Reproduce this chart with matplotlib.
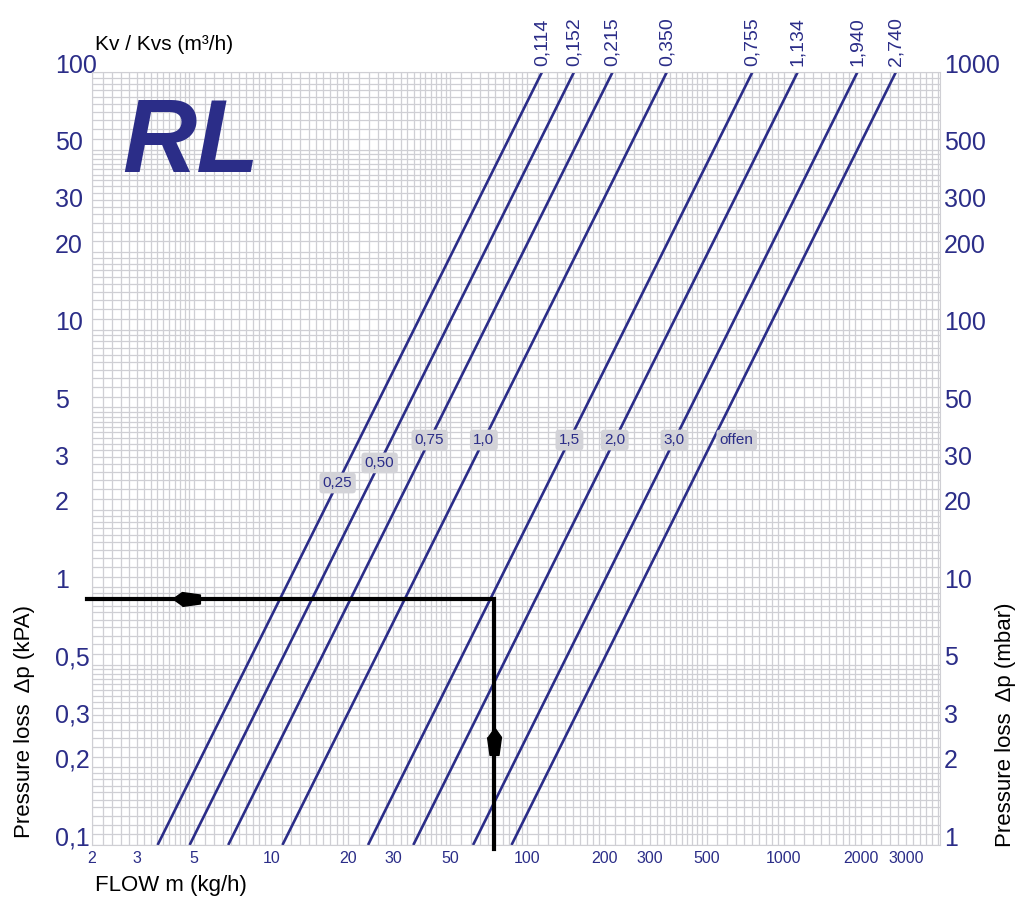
import numpy as np
import matplotlib.pyplot as plt
from matplotlib.ticker import FixedLocator, FixedFormatter, NullFormatter
from matplotlib.transforms import ScaledTranslation

# valve curves: Kv per presetting
kv_values = [0.114, 0.152, 0.215, 0.350, 0.755, 1.134, 1.940, 2.740]
kv_labels = ["0,114", "0,152", "0,215", "0,350", "0,755", "1,134", "1,940", "2,740"]
settings = ["0,25", "0,50", "0,75", "1,0", "1,5", "2,0", "3,0", "offen"]
setting_dp = [2.54, 3.04, 3.73, 3.73, 3.73, 3.73, 3.73, 3.73]  # kPa

flow_ticks = [2, 3, 5, 10, 20, 30, 50, 100, 200, 300, 500, 1000, 2000, 3000]
flow_labels = [str(v) for v in flow_ticks]
dp_ticks = [0.1, 0.2, 0.3, 0.5, 1, 2, 3, 5, 10, 20, 30, 50, 100]
dp_labels = ["0,1", "0,2", "0,3", "0,5", "1", "2", "3", "5", "10", "20", "30", "50", "100"]
mbar_ticks = [1, 2, 3, 5, 10, 20, 30, 50, 100, 200, 300, 500, 1000]
mbar_labels = [str(v) for v in mbar_ticks]

# worked example: read flow up to the curve, then across to the pressure loss
example_flow = 74   # kg/h
example_dp = 0.9    # kPa

NAVY = "#2B2D88"
GRID = "#CFCFD4"
FONT = ["Liberation Sans Narrow", "Liberation Sans", "DejaVu Sans"]

plt.rcParams["font.family"] = FONT


def log_paper(lo_exp, hi_exp):
    vals = []
    for k in range(lo_exp, hi_exp + 1):
        d = 10.0 ** k
        vals += list(np.arange(1, 2, 0.1) * d)
        vals += list(np.arange(2, 5, 0.2) * d)
        vals += list(np.arange(5, 10, 0.5) * d)
    return vals


fig = plt.figure(figsize=(10.19, 8.97), dpi=100)
ax = fig.add_axes([92 / 1019, 52 / 897, 848 / 1019, 773 / 897])
ax.set_xscale("log")
ax.set_yscale("log")
ax.set_xlim(2, 4070)
ax.set_ylim(0.1, 100)

ax.xaxis.set_major_locator(FixedLocator(flow_ticks))
ax.xaxis.set_major_formatter(FixedFormatter(flow_labels))
ax.xaxis.set_minor_locator(FixedLocator(log_paper(0, 3)))
ax.xaxis.set_minor_formatter(NullFormatter())
ax.yaxis.set_major_locator(FixedLocator(dp_ticks))
ax.yaxis.set_major_formatter(FixedFormatter(dp_labels))
ax.yaxis.set_minor_locator(FixedLocator(log_paper(-1, 2)))
ax.yaxis.set_minor_formatter(NullFormatter())
ax.grid(which="both", color=GRID, linewidth=0.9)
ax.set_axisbelow(True)
for s in ax.spines.values():
    s.set_color(GRID)

ax.tick_params(which="both", length=0)
ax.tick_params(axis="x", pad=4, labelsize=11.5, labelcolor=NAVY)
ax.tick_params(axis="y", pad=26.5, labelsize=18, labelcolor=NAVY)
for lab in ax.get_yticklabels():
    lab.set_horizontalalignment("left")

ax2 = ax.twinx()
ax2.set_yscale("log")
ax2.set_ylim(1, 1000)
ax2.yaxis.set_major_locator(FixedLocator(mbar_ticks))
ax2.yaxis.set_major_formatter(FixedFormatter(mbar_labels))
ax2.yaxis.set_minor_locator(FixedLocator([]))
ax2.tick_params(which="both", length=0, pad=3, labelsize=18, labelcolor=NAVY)
for s in ax2.spines.values():
    s.set_visible(False)

# lift the pressure labels a little above their grid lines
lift = ScaledTranslation(0, 9 / 100, fig.dpi_scale_trans)
for tick in ax.yaxis.get_major_ticks() + ax2.yaxis.get_major_ticks():
    for lab in (tick.label1, tick.label2):
        lab.set_transform(lab.get_transform() + lift)

# Δp [kPa] = 100 * (Q / Kv)^2 with Q in m3/h
dp_span = np.array([0.1, 100.0])
for kv, name, setting, sdp in zip(kv_values, kv_labels, settings, setting_dp):
    flow = 1000 * kv * np.sqrt(dp_span / 100)
    ax.plot(flow, dp_span, color=NAVY, linewidth=1.9, solid_capstyle="butt")
    ax.annotate(name, (flow[-1], dp_span[-1]), xytext=(0, 4),
                textcoords="offset points", rotation=90, ha="center",
                va="bottom", fontsize=14, color=NAVY, annotation_clip=False)
    at = 1000 * kv * np.sqrt(sdp / 100)
    box = dict(boxstyle="round,pad=0.22", fc="#D3D3D8", ec="none")
    if setting == "offen":
        ax.annotate(setting, (at, sdp), xytext=(5, 0), textcoords="offset points",
                    ha="left", va="center", fontsize=11, color=NAVY, bbox=box)
    else:
        ax.text(at, sdp, setting, ha="center", va="center", fontsize=11,
                color=NAVY, bbox=box)

# example reading path with arrow heads
ax.plot([1.92, example_flow, example_flow], [example_dp, example_dp, 0.0965],
        color="black", linewidth=3, clip_on=False, solid_joinstyle="miter",
        zorder=5)
head_left = [(-1, 0), (-0.3, 0.5), (1, 0.32), (1, -0.32), (-0.3, -0.5)]
head_up = [(y, -x) for x, y in head_left]
ax.plot([4.66], [example_dp], marker=head_left, markersize=20, color="black",
        zorder=6)
ax.plot([example_flow], [0.254], marker=head_up, markersize=20, color="black",
        zorder=6)

fig.text(95 / 1019, 1 - 45 / 897, "Kv / Kvs (m³/h)", ha="left", va="center",
         fontsize=15, color="black")
fig.text(95 / 1019, 1 - 885 / 897, "FLOW m (kg/h)", ha="left", va="center",
         fontsize=16, color="black")
fig.text(25 / 1019, 1 - 722 / 897, "Pressure loss  Δp (kPA)", rotation=90,
         ha="center", va="center", fontsize=16, color="black")
fig.text(1005 / 1019, 1 - 725 / 897, "Pressure loss  Δp (mbar)", rotation=90,
         ha="center", va="center", fontsize=16, color="black")
fig.text(122 / 1019, 1 - 145 / 897, "RL", ha="left", va="center", fontsize=74,
         fontweight="bold", fontstyle="italic", color=NAVY)

fig.savefig("out.png", dpi=100)
